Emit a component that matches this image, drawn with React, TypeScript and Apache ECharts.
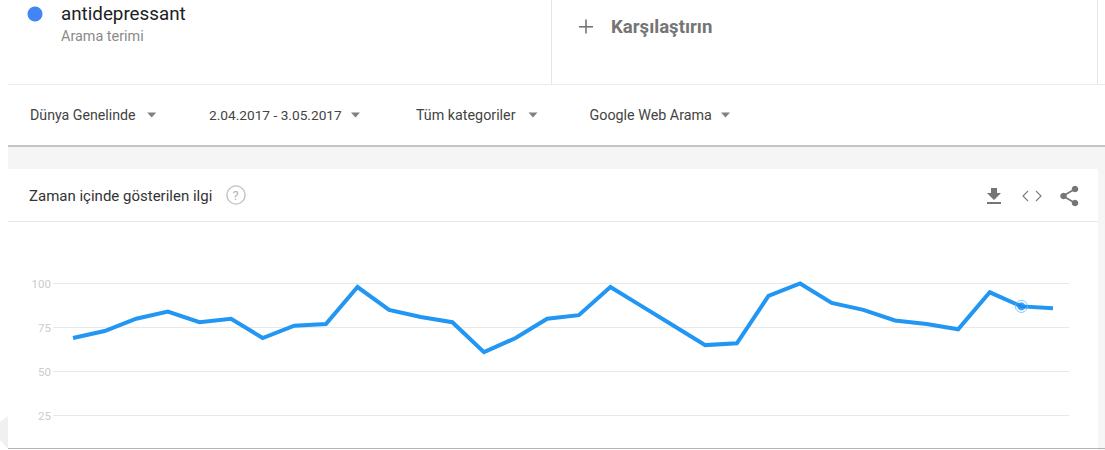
import React, { useEffect, useRef } from "react";
import * as echarts from "echarts";

const dayLabels = [
  "2.04", "3.04", "4.04", "5.04", "6.04", "7.04", "8.04", "9.04", "10.04", "11.04", "12.04",
  "13.04", "14.04", "15.04", "16.04", "17.04", "18.04", "19.04", "20.04", "21.04", "22.04",
  "23.04", "24.04", "25.04", "26.04", "27.04", "28.04", "29.04", "30.04", "1.05", "2.05", "3.05",
];
const interest = [
  69, 73, 80, 84, 78, 80, 69, 76, 77, 98, 85, 81, 78, 61, 69, 80,
  82, 98, 87, 76, 65, 66, 93, 100, 89, 85, 79, 77, 74, 95, 87, 86,
];
const yTicks = [25, 50, 75, 100];
const hoverIndex = 30;
const filters = ["Dünya Genelinde", "2.04.2017 - 3.05.2017", "Tüm kategoriler", "Google Web Arama"];

const FONT = "Roboto";
const tri = (x: number, y: number) => ({
  type: "polygon",
  silent: true,
  shape: { points: [[x - 4.5, y - 2.5], [x + 4.5, y - 2.5], [x, y + 2.5]] },
  style: { fill: "#808080" },
});
const rect = (x: number, y: number, width: number, height: number, fill: string) => ({
  type: "rect",
  silent: true,
  shape: { x, y, width, height },
  style: { fill },
});
const text = (x: number, y: number, t: string, size: number, fill: string, fontWeight: any = 400) => ({
  type: "text",
  silent: true,
  x,
  y,
  style: { text: t, fontFamily: FONT, fontSize: size, fill, fontWeight, textVerticalAlign: "middle", verticalAlign: "middle" },
});
const seg = (x1: number, y1: number, x2: number, y2: number, stroke: string, lineWidth = 1) => ({
  type: "line",
  silent: true,
  shape: { x1, y1, x2, y2 },
  style: { stroke, lineWidth },
});

export default function App() {
  const ref = useRef<HTMLDivElement>(null);
  useEffect(() => {
    document.body.style.margin = "0";
    const chart = echarts.init(ref.current!, undefined, { renderer: "svg" });
    const background = [
      rect(0, 0, 1105, 450, "#ffffff"),
      // bottom-left soft shadow
      {
        type: "polygon",
        silent: true,
        shape: { points: [[0, 422], [8, 416], [8, 449], [0, 440]] },
        style: { fill: "#f0f0f0" },
      },
      rect(8, 84, 1097, 1, "#ebebeb"),
      rect(551, 0, 1, 84, "#e6e6e6"),
      rect(1097, 0, 1, 84, "#e6e6e6"),
      rect(8, 145, 1097, 2, "#c4c4c4"),
      rect(8, 147, 1097, 22, "#f5f5f5"),
      rect(1098, 147, 7, 303, "#f5f5f5"),
      rect(8, 221, 1090, 1, "#e6e6e6"),
      rect(8, 448, 1097, 1, "#b4b4b4"),
      { type: "circle", silent: true, shape: { cx: 35, cy: 14, r: 7.5 }, style: { fill: "#4285f4" } },
      text(61, 13.5, "antidepressant", 18.8, "#202124"),
      text(61, 36.5, "Arama terimi", 14.4, "#8a8a8a"),
      rect(579, 26, 14, 1.6, "#757575"),
      rect(585.2, 19.5, 1.6, 14, "#757575"),
      text(611, 27, "Karşılaştırın", 18.6, "#757575", 700),
      text(30, 114.5, filters[0], 14.2, "#444444"),
      tri(151.7, 115),
      text(209, 114.5, filters[1], 13.7, "#444444"),
      tri(355.5, 115),
      text(416, 114.5, filters[2], 14.3, "#444444"),
      tri(533, 115),
      text(589.5, 114.5, filters[3], 14.3, "#444444"),
      tri(725.5, 115),
      text(29, 195.5, "Zaman içinde gösterilen ilgi", 15, "#333333"),
      { type: "circle", silent: true, shape: { cx: 236, cy: 195, r: 9 }, style: { fill: "none", stroke: "#c0c0c0", lineWidth: 1.3 } },
      { ...text(232.4, 195.5, "?", 13, "#b5b5b5") },
      // download icon
      { type: "polygon", silent: true, shape: { points: [[991, 188], [997, 188], [997, 193], [1001, 193], [994, 200], [987, 193], [991, 193]] }, style: { fill: "#757575" } },
      rect(987, 202, 14, 2, "#757575"),
      // embed icon
      { type: "polyline", silent: true, shape: { points: [[1028, 191], [1023, 196], [1028, 201]] }, style: { fill: "none", stroke: "#808080", lineWidth: 1.2 } },
      { type: "polyline", silent: true, shape: { points: [[1036, 191], [1041, 196], [1036, 201]] }, style: { fill: "none", stroke: "#808080", lineWidth: 1.2 } },
      // share icon
      seg(1063, 196, 1075, 189, "#757575", 1.6),
      seg(1063, 196, 1075, 203, "#757575", 1.6),
      { type: "circle", silent: true, shape: { cx: 1063.5, cy: 196, r: 3.3 }, style: { fill: "#757575" } },
      { type: "circle", silent: true, shape: { cx: 1075, cy: 189, r: 3.3 }, style: { fill: "#757575" } },
      { type: "circle", silent: true, shape: { cx: 1075, cy: 203, r: 3.3 }, style: { fill: "#757575" } },
    ];
    chart.setOption({
      animation: false,
      textStyle: { fontFamily: FONT },
      graphic: { elements: background.map((e: any) => ({ ...e, z: -10, zlevel: 0 })) },
      grid: { left: 53, right: 36, top: 283.5, height: 132, containLabel: false },
      xAxis: {
        type: "value",
        min: (53 - 73) / 31.6,
        max: 31 + (1069 - 1053) / 31.6,
        show: false,
      },
      yAxis: {
        type: "value",
        min: 25,
        max: 100,
        interval: 25,
        axisLine: { show: false },
        axisTick: { show: false },
        axisLabel: {
          color: "#cccccc",
          fontSize: 11.5,
          margin: 2,
          padding: [0, 0, 2, 0],
          fontFamily: FONT,
          customValues: yTicks,
        },
        splitLine: { lineStyle: { color: "#e8e8e8", width: 1 } },
      },
      series: [
        {
          type: "line",
          name: "antidepressant",
          data: interest.map((v, i) => [i, v]),
          showSymbol: false,
          symbol: "none",
          clip: false,
          lineStyle: { color: "#2196f3", width: 4, join: "miter" },
          z: 3,
        },
        {
          type: "scatter",
          data: [[hoverIndex, interest[hoverIndex]]],
          symbol: "circle",
          symbolSize: 8,
          itemStyle: { color: "#1a8cf0" },
          z: 4,
          silent: true,
        },
        {
          type: "scatter",
          data: [[hoverIndex, interest[hoverIndex]]],
          symbol: "circle",
          symbolSize: 12,
          itemStyle: { color: "rgba(255,255,255,0)", borderColor: "#64b5f6", borderWidth: 1 },
          z: 4,
          silent: true,
        },
      ],
      tooltip: { show: false },
    });
    return () => chart.dispose();
  }, []);
  return <div ref={ref} data-days={dayLabels.length} style={{ width: 1105, height: 450 }} />;
}
